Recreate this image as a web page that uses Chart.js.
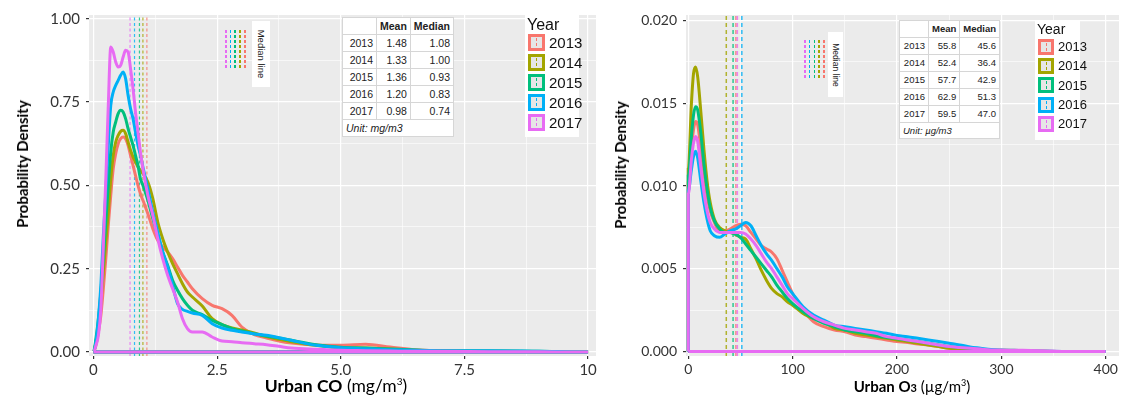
<!DOCTYPE html>
<html lang="en">
<head>
<meta charset="UTF-8">
<title>Urban CO and O3 density</title>
<style>
  body { margin: 0; background: #fff; }
  .wrap { position: relative; width: 1144px; height: 405px; overflow: hidden; font-family: Lato, sans-serif; }
  canvas { position: absolute; top: 0; }
  #coChart { left: 0; }
  #o3Chart { left: 590px; }
  .abs { position: absolute; }
  .ytitle { font-weight: bold; white-space: nowrap; color: #000; transform: translate(-50%, -50%) rotate(-90deg); }
  .xtitle { white-space: nowrap; color: #000; transform: translate(-50%, -50%); }
  .xtitle b { font-weight: bold; }
  table.stats { border-collapse: collapse; background: #fff; font-family: "Liberation Sans", Arial, sans-serif; color: #222; }
  table.stats td { border: 1px solid #d6d6d6; padding: 0 3px; text-align: right; }
  table.stats td.unit { text-align: left; font-style: italic; }
  .legend { background: #fff; font-family: "Liberation Sans", Arial, sans-serif; color: #111; }
  .key { position: absolute; box-sizing: border-box; background: #e6e6e6; }
  .tick { position: absolute; }
  .medbox { background: #fff; }
  .medtext { position: absolute; white-space: nowrap; font-family: "Liberation Sans", Arial, sans-serif; color: #222; transform: translate(-50%, -50%) rotate(90deg); }
</style>
<script src="https://cdn.jsdelivr.net/npm/chart.js@4.4.0/dist/chart.umd.min.js"></script>
</head>
<body>
<div class="wrap" id="wrap">
  <canvas id="coChart" width="600" height="405"></canvas>
  <canvas id="o3Chart" width="554" height="405"></canvas>
</div>
<script>
// years and ggplot hue colours
const years = ['2013', '2014', '2015', '2016', '2017'];
const colors = ['#F8766D', '#A3A500', '#00BF7D', '#00B0F6', '#E76BF3'];

// ---- urban CO (mg/m3) density curves ----
const coX = [0, 0.05, 0.1, 0.15, 0.2, 0.25, 0.3, 0.35, 0.4, 0.45, 0.5, 0.55, 0.6, 0.65, 0.7, 0.75, 0.8, 0.85, 0.9, 0.95,
  1.0, 1.1, 1.2, 1.3, 1.4, 1.5, 1.6, 1.7, 1.8, 1.9, 2.0, 2.2, 2.4, 2.6, 2.8, 3.0, 3.25, 3.5, 3.75, 4.0, 4.5, 5.0, 5.5, 6.0, 6.5, 7.0, 8.0, 9.0, 10.0];
const co2013 = [0, 0.02, 0.06, 0.11, 0.19, 0.28, 0.38, 0.47, 0.55, 0.595, 0.625, 0.64, 0.645, 0.64, 0.62, 0.59, 0.56, 0.53, 0.50, 0.475,
  0.455, 0.415, 0.37, 0.335, 0.315, 0.30, 0.28, 0.255, 0.23, 0.21, 0.19, 0.16, 0.14, 0.13, 0.11, 0.075, 0.052, 0.042, 0.033, 0.027, 0.021, 0.02, 0.023, 0.015, 0.007, 0.004, 0.002, 0.001, 0];
const co2014 = [0, 0.03, 0.08, 0.15, 0.24, 0.33, 0.42, 0.52, 0.59, 0.63, 0.65, 0.662, 0.665, 0.655, 0.63, 0.605, 0.585, 0.57, 0.555, 0.545,
  0.535, 0.51, 0.46, 0.39, 0.34, 0.30, 0.265, 0.235, 0.205, 0.18, 0.165, 0.138, 0.10, 0.082, 0.072, 0.066, 0.057, 0.046, 0.038, 0.031, 0.02, 0.013, 0.012, 0.009, 0.005, 0.004, 0.002, 0.001, 0];
const co2015 = [0, 0.04, 0.10, 0.18, 0.28, 0.39, 0.50, 0.60, 0.66, 0.69, 0.715, 0.725, 0.72, 0.70, 0.67, 0.645, 0.62, 0.59, 0.56, 0.52,
  0.50, 0.455, 0.40, 0.35, 0.30, 0.26, 0.215, 0.185, 0.16, 0.14, 0.125, 0.112, 0.095, 0.082, 0.07, 0.063, 0.055, 0.048, 0.042, 0.035, 0.022, 0.014, 0.012, 0.009, 0.006, 0.004, 0.003, 0.002, 0];
const co2016 = [0, 0.03, 0.10, 0.20, 0.35, 0.48, 0.62, 0.74, 0.78, 0.80, 0.815, 0.83, 0.84, 0.82, 0.77, 0.73, 0.70, 0.66, 0.62, 0.59,
  0.555, 0.49, 0.42, 0.36, 0.30, 0.255, 0.20, 0.145, 0.128, 0.122, 0.117, 0.11, 0.085, 0.072, 0.065, 0.06, 0.054, 0.05, 0.043, 0.035, 0.02, 0.013, 0.01, 0.007, 0.005, 0.004, 0.004, 0.002, 0];
const co2017 = [0, 0.02, 0.05, 0.13, 0.32, 0.52, 0.74, 0.915, 0.90, 0.87, 0.855, 0.86, 0.885, 0.905, 0.90, 0.85, 0.79, 0.72, 0.66, 0.60,
  0.55, 0.47, 0.41, 0.34, 0.28, 0.23, 0.19, 0.15, 0.10, 0.07, 0.06, 0.06, 0.045, 0.033, 0.031, 0.028, 0.025, 0.022, 0.017, 0.012, 0.008, 0.005, 0.004, 0.003, 0.002, 0.002, 0.001, 0.0005, 0];
const coMean = [1.48, 1.33, 1.36, 1.20, 0.98];
const coMedian = [1.08, 1.00, 0.93, 0.83, 0.74];
const coXTicks = [0, 2.5, 5, 7.5, 10];
const coXTickLabels = ['0', '2.5', '5.0', '7.5', '10'];
const coYTicks = [0, 0.25, 0.5, 0.75, 1];
const coYTickLabels = ['0.00', '0.25', '0.50', '0.75', '1.00'];

// ---- urban O3 (ug/m3) density curves ----
const o3X = [0, 3, 5, 7, 9, 12, 15, 18, 21, 25, 30, 35, 40, 45, 50, 55, 60, 65, 70, 75, 80, 85, 90, 95, 100,
  110, 120, 130, 140, 150, 160, 170, 180, 190, 200, 210, 220, 230, 240, 250, 260, 270, 280, 290, 300, 320, 340, 360, 380, 400];
const o32013 = [0.0102, 0.0123, 0.0134, 0.0139, 0.0137, 0.0123, 0.0108, 0.0094, 0.0085, 0.0078, 0.0073, 0.0073, 0.0074, 0.0076, 0.0077, 0.0076, 0.0072, 0.0068, 0.0064, 0.0062, 0.0060, 0.0056, 0.0049, 0.0042, 0.0035,
  0.0025, 0.0018, 0.0015, 0.0013, 0.0012, 0.0010, 0.0009, 0.0008, 0.0007, 0.0006, 0.00055, 0.00045, 0.0004, 0.0003, 0.0002, 0.00012, 0.00008, 0.00005, 0.00003, 0.00002, 0.00001, 0, 0, 0, 0];
const o32014 = [0.0110, 0.0150, 0.0168, 0.0172, 0.0166, 0.0145, 0.0122, 0.0103, 0.0090, 0.0080, 0.0075, 0.0073, 0.0072, 0.0071, 0.0069, 0.0068, 0.0062, 0.0056, 0.0049, 0.0043, 0.0038, 0.0035, 0.0033, 0.0030, 0.0028,
  0.0023, 0.0020, 0.0018, 0.0014, 0.0013, 0.0011, 0.0010, 0.0009, 0.0008, 0.0007, 0.0006, 0.0005, 0.0004, 0.0003, 0.0002, 0.00015, 0.0001, 0.00007, 0.00005, 0.00003, 0.00002, 0.00001, 0, 0, 0];
const o32015 = [0.0106, 0.0130, 0.0143, 0.0148, 0.0146, 0.0132, 0.0113, 0.0098, 0.0087, 0.0079, 0.0074, 0.0072, 0.0072, 0.0071, 0.0069, 0.0065, 0.0061, 0.0057, 0.0053, 0.0049, 0.0045, 0.0040, 0.0036, 0.0032, 0.0029,
  0.0024, 0.0020, 0.0017, 0.0015, 0.0013, 0.0012, 0.0011, 0.00095, 0.00085, 0.00077, 0.0007, 0.0006, 0.0005, 0.0004, 0.0003, 0.00025, 0.0002, 0.00015, 0.0001, 0.0001, 0.00005, 0.00002, 0, 0, 0];
const o32016 = [0.0097, 0.0110, 0.0118, 0.0121, 0.0117, 0.0103, 0.0090, 0.0080, 0.0073, 0.0070, 0.0069, 0.0071, 0.0073, 0.0074, 0.0076, 0.0078, 0.0076, 0.0070, 0.0064, 0.0059, 0.0055, 0.0050, 0.0045, 0.0039, 0.0035,
  0.0027, 0.0022, 0.0019, 0.0016, 0.0015, 0.0014, 0.0013, 0.0012, 0.0011, 0.00097, 0.0009, 0.0008, 0.0007, 0.0006, 0.0005, 0.0004, 0.00028, 0.0002, 0.00012, 0.00008, 0.00003, 0.00001, 0, 0, 0];
const o32017 = [0.0095, 0.0116, 0.0126, 0.0130, 0.0127, 0.0111, 0.0096, 0.0085, 0.0078, 0.0074, 0.0072, 0.0072, 0.0072, 0.0072, 0.0072, 0.0071, 0.0068, 0.0064, 0.0059, 0.0054, 0.0050, 0.0045, 0.0040, 0.0035, 0.0032,
  0.0026, 0.0021, 0.0018, 0.0016, 0.0014, 0.0013, 0.0012, 0.0011, 0.0009, 0.0008, 0.0007, 0.0006, 0.0005, 0.0004, 0.0003, 0.00025, 0.0002, 0.00015, 0.0001, 0.0001, 0.00007, 0.00005, 0, 0, 0];
const o3Mean = [55.8, 52.4, 57.7, 62.9, 59.5];
const o3Median = [45.6, 36.4, 42.9, 51.3, 47.0];
const o3XTicks = [0, 100, 200, 300, 400];
const o3XTickLabels = ['0', '100', '200', '300', '400'];
const o3YTicks = [0, 0.005, 0.01, 0.015, 0.02];
const o3YTickLabels = ['0.000', '0.005', '0.010', '0.015', '0.020'];

// grey ggplot panel
const panelBg = {
  id: 'panelBg',
  beforeDraw(chart) {
    const { ctx, chartArea: a } = chart;
    ctx.save();
    ctx.fillStyle = '#EBEBEB';
    ctx.fillRect(a.left, a.top, a.right - a.left, a.bottom - a.top);
    ctx.restore();
  }
};

// major ticks plus the minor ones half way between
function withMinor(major) {
  const all = [];
  major.forEach((v, i) => {
    all.push(v);
    if (i < major.length - 1) all.push((v + major[i + 1]) / 2);
  });
  return all;
}

function axis(opt) {
  const isMajor = (ctx) => ctx.tick && opt.ticks.indexOf(ctx.tick.value) >= 0;
  return {
    type: 'linear',
    bounds: 'data',
    min: opt.min,
    max: opt.max,
    afterBuildTicks: (ax) => { ax.ticks = withMinor(opt.ticks).map(v => ({ value: v })); },
    afterFit: opt.fit,
    border: { display: false },
    grid: {
      color: '#ffffff',
      lineWidth: (ctx) => isMajor(ctx) ? 1.2 : 0.6,
      tickLength: 3,
      tickColor: (ctx) => isMajor(ctx) ? '#333333' : 'rgba(0,0,0,0)'
    },
    ticks: {
      autoSkip: false,
      maxRotation: 0,
      padding: opt.pad,
      color: '#333333',
      font: { family: 'Lato', size: opt.size },
      callback: (v) => {
        const k = opt.ticks.indexOf(v);
        return k >= 0 ? opt.labels[k] : '';
      }
    }
  };
}

function buildSets(xs, series, medians, yMin, yMax, medWidth, medDash) {
  const sets = [];
  // 2017 first so it is drawn on top
  for (let i = series.length - 1; i >= 0; i--) {
    const pts = [{ x: xs[0], y: 0 }];
    xs.forEach((x, j) => pts.push({ x: x, y: series[i][j] }));
    pts.push({ x: xs[0], y: 0 });
    sets.push({
      data: pts,
      borderColor: colors[i],
      borderWidth: 3,
      pointRadius: 0,
      cubicInterpolationMode: 'monotone',
      fill: false
    });
  }
  for (let i = medians.length - 1; i >= 0; i--) {
    sets.push({
      data: [{ x: medians[i], y: yMin }, { x: medians[i], y: yMax }],
      borderColor: colors[i] + 'CC',
      borderWidth: medWidth,
      borderDash: medDash,
      pointRadius: 0
    });
  }
  return sets;
}

function makeChart(id, cfg) {
  return new Chart(document.getElementById(id), {
    type: 'line',
    data: { datasets: buildSets(cfg.xs, cfg.series, cfg.medians, cfg.yMin, cfg.yMax, cfg.medWidth, cfg.medDash) },
    options: {
      responsive: false,
      animation: false,
      layout: { padding: cfg.padding },
      plugins: { legend: { display: false }, tooltip: { enabled: false } },
      scales: {
        x: axis({ min: cfg.xMin, max: cfg.xMax, ticks: cfg.xTicks, labels: cfg.xLabels, size: cfg.font, pad: 2,
          fit: (ax) => { ax.height = 49; } }),
        y: axis({ min: cfg.yMin, max: cfg.yMax, ticks: cfg.yTicks, labels: cfg.yLabels, size: cfg.font, pad: 6,
          fit: (ax) => { ax.width = cfg.yWidth; } })
      }
    },
    plugins: [panelBg]
  });
}

makeChart('coChart', {
  xs: coX, series: [co2013, co2014, co2015, co2016, co2017], medians: coMedian,
  xMin: -0.09, xMax: 10.16, yMin: -0.012, yMax: 1.011,
  xTicks: coXTicks, xLabels: coXTickLabels, yTicks: coYTicks, yLabels: coYTickLabels,
  font: 15, yWidth: 89, padding: { top: 12, right: 4, bottom: 0, left: 0 },
  medWidth: 1.2, medDash: [3, 2.5]
});

makeChart('o3Chart', {
  xs: o3X, series: [o32013, o32014, o32015, o32016, o32017], medians: o3Median,
  xMin: -2.2, xMax: 412.7, yMin: -0.00027, yMax: 0.02034,
  xTicks: o3XTicks, xLabels: o3XTickLabels, yTicks: o3YTicks, yLabels: o3YTickLabels,
  font: 14, yWidth: 96, padding: { top: 15, right: 25, bottom: 0, left: 0 },
  medWidth: 1.5, medDash: [4, 3]
});

// ---- text overlays: axis titles, stats tables, legends ----
const wrap = document.getElementById('wrap');
function put(html, cls, css) {
  const d = document.createElement('div');
  d.className = 'abs ' + (cls || '');
  d.innerHTML = html;
  Object.assign(d.style, css);
  wrap.appendChild(d);
  return d;
}

put('Probability Density', 'ytitle', { left: '22px', top: '164px', fontSize: '15px' });
put('Probability Density', 'ytitle', { left: '620px', top: '165px', fontSize: '15px' });
put('<b>Urban CO</b> (mg/m<sup style="font-size:10px">3</sup>)', 'xtitle', { left: '336px', top: '385px', fontSize: '17.5px' });
put('<b>Urban O<span style="font-size:11px">3</span></b> (\u00b5g/m<sup style="font-size:9px">3</sup>)', 'xtitle', { left: '912px', top: '386px', fontSize: '15px' });

function statsTable(left, top, widths, rowH, font, means, medians, unit) {
  let h = '<table class="stats" style="font-size:' + font + 'px">';
  h += '<tr style="height:' + rowH[0] + 'px"><td style="width:' + widths[0] + 'px"></td><td style="width:' + widths[1] + 'px"><b>Mean</b></td><td style="width:' + widths[2] + 'px"><b>Median</b></td></tr>';
  years.forEach((y, i) => {
    h += '<tr style="height:' + rowH[1] + 'px"><td>' + y + '</td><td>' + means[i].toFixed(means[i] < 10 ? 2 : 1) + '</td><td>' + medians[i].toFixed(medians[i] < 10 ? 2 : 1) + '</td></tr>';
  });
  h += '<tr style="height:' + rowH[0] + 'px"><td class="unit" colspan="3">' + unit + '</td></tr></table>';
  put(h, '', { left: left + 'px', top: top + 'px' });
}
statsTable(342, 17, [27, 26, 34], [16.5, 17.2], 10.5, coMean, coMedian, 'Unit: mg/m3');
statsTable(899, 20, [22, 21, 26], [16.5, 17.0], 9.5, o3Mean, o3Median, 'Unit: \u00b5g/m3');

function dashStrip(x, y, h, w, color) {
  put('', 'tick', {
    left: x + 'px', top: y + 'px', width: w + 'px', height: h + 'px',
    background: 'repeating-linear-gradient(to bottom, ' + color + ' 0 3px, transparent 3px 5px)'
  });
}

function legend(box, titleSize, labelSize, keySize, step) {
  put('', 'legend', { left: box[0] + 'px', top: box[1] + 'px', width: box[2] + 'px', height: box[3] + 'px' });
  put('Year', '', { left: (box[0] + 2) + 'px', top: (box[1] + 1) + 'px', fontSize: titleSize + 'px', fontFamily: '"Liberation Sans", Arial, sans-serif', color: '#111' });
  years.forEach((y, i) => {
    const top = box[1] + 19 + i * step;
    put('', 'key', { left: (box[0] + 3) + 'px', top: top + 'px', width: keySize + 'px', height: keySize + 'px', border: '3px solid ' + colors[i] });
    dashStrip(box[0] + 3 + keySize / 2 - 0.5, top + 4, keySize - 8, 1, colors[i]);
    put(y, '', { left: (box[0] + keySize + 7) + 'px', top: (top + keySize / 2 - labelSize * 0.6) + 'px', fontSize: labelSize + 'px', fontFamily: '"Liberation Sans", Arial, sans-serif', color: '#111' });
  });
}
legend([525, 15, 54, 122], 16, 15, 17, 20);
legend([1035, 20, 45, 120], 14, 13, 16, 19.2);

function medianKey(dashX, y0, y1, box, font) {
  // keys drawn pink, blue, green, olive, red from left to right
  for (let k = 0; k < 5; k++) {
    dashStrip(dashX[k], y0, y1 - y0, 1.5, colors[4 - k]);
  }
  put('', 'medbox', { left: box[0] + 'px', top: box[1] + 'px', width: box[2] + 'px', height: box[3] + 'px' });
  put('Median line', 'medtext', { left: (box[0] + box[2] / 2) + 'px', top: (box[1] + box[3] / 2) + 'px', fontSize: font + 'px' });
}
medianKey([225, 229.5, 234, 239, 244], 30, 68, [252, 21, 18, 66], 9.5);
medianKey([804, 808.7, 813.5, 818.2, 823], 40, 78, [828, 32, 15, 65], 8.5);
</script>
</body>
</html>
